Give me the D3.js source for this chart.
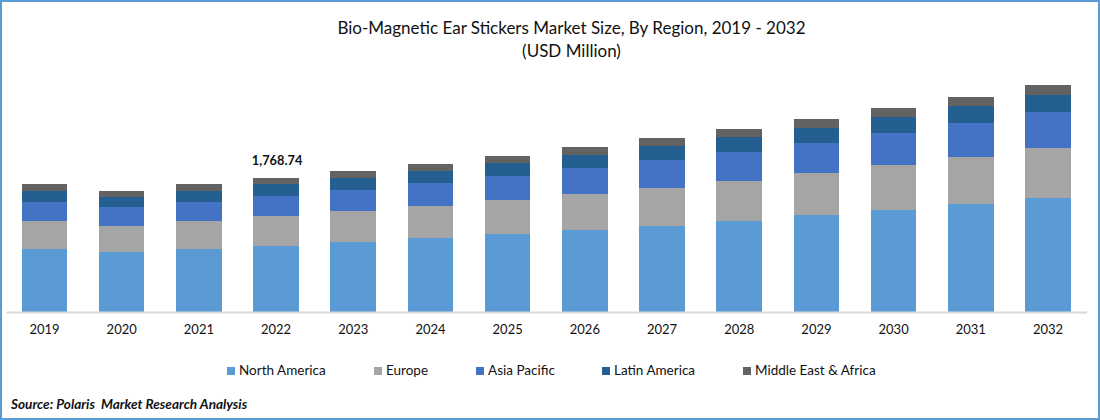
<!DOCTYPE html>
<html>
<head>
    <meta charset="utf-8">
    <title>Bio-Magnetic Ear Stickers Market Size</title>
    <script src="https://d3js.org/d3.v7.min.js"></script>
    <style>
        html, body { margin: 0; padding: 0; background: white; }
        svg { display: block; font-family: Lato, "Open Sans", sans-serif; }
    </style>
</head>
<body>
    <svg id="chart" width="1100" height="420"></svg>
    <script>
        const years = [2019, 2020, 2021, 2022, 2023, 2024, 2025, 2026, 2027, 2028, 2029, 2030, 2031, 2032];
        const regions = ["North America", "Europe", "Asia Pacific", "Latin America", "Middle East & Africa"];
        const colors = ["#5b9bd5", "#a5a5a5", "#4472c4", "#255e91", "#636363"];

        const northAmerica = [832, 792, 832, 871, 924, 977, 1030, 1082, 1135, 1201, 1280, 1346, 1426, 1505];
        const europe = [370, 343, 370, 396, 409, 422, 449, 475, 502, 528, 554, 594, 620, 660];
        const asiaPacific = [251, 251, 251, 264, 277, 304, 317, 343, 370, 383, 396, 422, 449, 475];
        const latinAmerica = [145, 132, 145, 158, 158, 158, 172, 172, 185, 198, 198, 211, 224, 224];
        const middleEast = [92, 79, 92, 79, 92, 92, 92, 106, 106, 106, 119, 119, 119, 132];

        const labelYear = 2022;
        const labelText = "1,768.74";
        const legendLeft = [227, 374, 476, 602, 743];

        const baseline = 312;
        const rows = years.map((year, i) => ({
            year: year,
            "North America": northAmerica[i],
            "Europe": europe[i],
            "Asia Pacific": asiaPacific[i],
            "Latin America": latinAmerica[i],
            "Middle East & Africa": middleEast[i]
        }));

        const svg = d3.select("#chart");

        // blue frame around the picture
        svg.append("rect")
            .attr("x", 1).attr("y", 1)
            .attr("width", 1098).attr("height", 418)
            .attr("fill", "white")
            .attr("stroke", "#5b9bd5")
            .attr("stroke-width", 2);

        // title
        const title = svg.append("g")
            .attr("text-anchor", "middle")
            .attr("font-size", 17)
            .attr("fill", "#111");
        title.append("text").attr("x", 571.5).attr("y", 34).text("Bio-Magnetic Ear Stickers Market Size, By Region, 2019 - 2032");
        title.append("text").attr("x", 571.5).attr("y", 57).text("(USD Million)");

        // scales
        const x = d3.scaleBand()
            .domain(years)
            .range([5.9, 1086.6])
            .paddingInner(0.41)
            .paddingOuter(0.205);

        const y = d3.scaleLinear()
            .domain([0, 4118])
            .range([baseline, 0]);

        const color = d3.scaleOrdinal().domain(regions).range(colors);

        // stacked bars
        const stacked = d3.stack().keys(regions)(rows);

        svg.append("g")
            .selectAll("g")
            .data(stacked)
            .enter()
            .append("g")
            .attr("fill", d => color(d.key))
            .selectAll("rect")
            .data(d => d)
            .enter()
            .append("rect")
            .attr("x", d => x(d.data.year))
            .attr("y", d => y(d[1]))
            .attr("width", x.bandwidth())
            .attr("height", d => y(d[0]) - y(d[1]))
            .attr("shape-rendering", "crispEdges");

        // x axis
        const axis = svg.append("g")
            .attr("transform", "translate(0," + baseline + ")")
            .call(d3.axisBottom(x).tickSize(0).tickPadding(13));
        axis.select(".domain")
            .attr("stroke", "#d9d9d9")
            .attr("stroke-width", 2);
        axis.selectAll("text")
            .attr("font-family", "Lato, 'Open Sans', sans-serif")
            .attr("font-size", 13)
            .attr("fill", "#111");

        // total over the 2022 bar
        const labelRow = rows.find(d => d.year === labelYear);
        svg.append("text")
            .attr("x", x(labelYear) + x.bandwidth() / 2 + 1)
            .attr("y", y(d3.sum(regions, r => labelRow[r])) - 13)
            .attr("text-anchor", "middle")
            .attr("font-size", 12.8)
            .attr("font-weight", "bold")
            .attr("fill", "#111")
            .text(labelText);

        // legend
        const legend = svg.append("g")
            .selectAll("g")
            .data(regions)
            .enter()
            .append("g")
            .attr("transform", (d, i) => "translate(" + legendLeft[i] + ",367)");
        legend.append("rect")
            .attr("width", 8)
            .attr("height", 8)
            .attr("fill", d => color(d));
        legend.append("text")
            .attr("x", 12)
            .attr("y", 8.2)
            .attr("font-size", 13.5)
            .attr("fill", "#111")
            .text(d => d);

        // source
        svg.append("text")
            .attr("x", 11)
            .attr("y", 409)
            .attr("font-size", 13.6)
            .attr("font-weight", "bold")
            .attr("font-style", "italic")
            .attr("fill", "#111")
            .style("white-space", "pre")
            .text("Source: Polaris  Market Research Analysis");
    </script>
</body>
</html>
